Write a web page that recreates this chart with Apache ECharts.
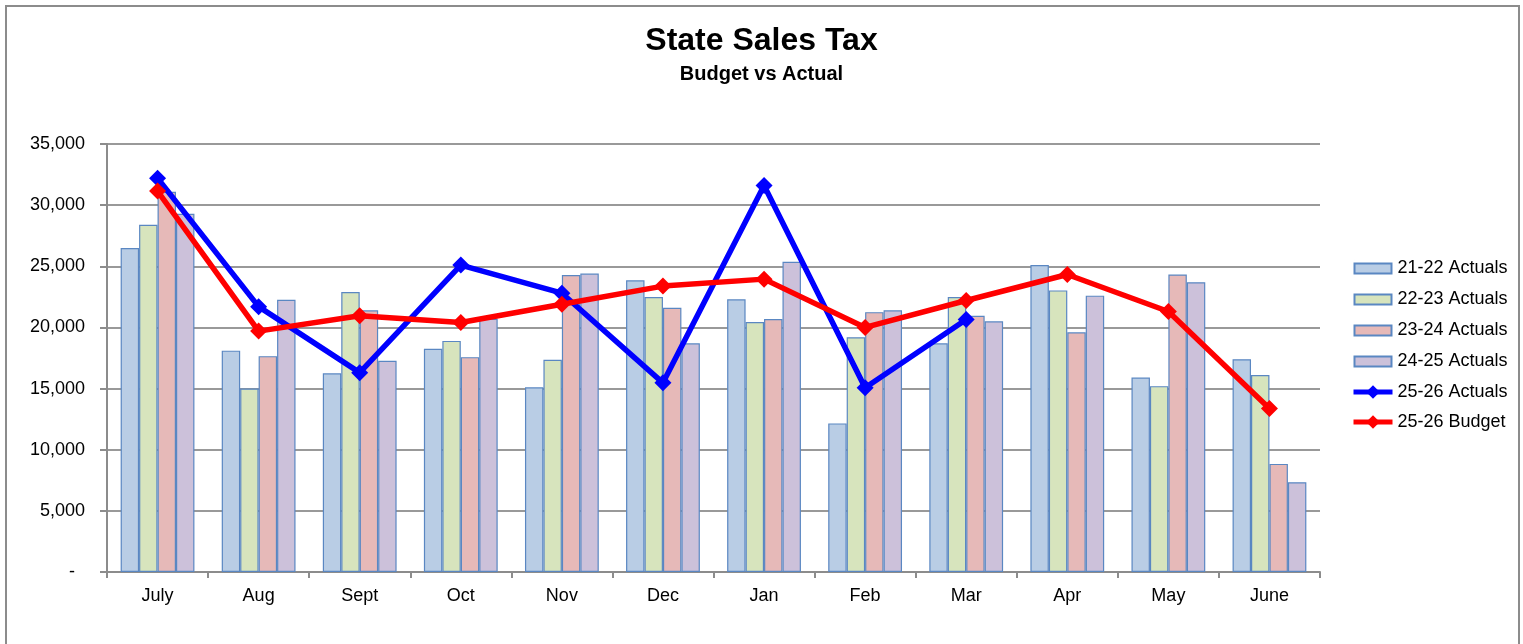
<!DOCTYPE html>
<html><head><meta charset="utf-8">
<script src="https://cdn.jsdelivr.net/npm/echarts@6/dist/echarts.min.js"></script>
<style>html,body{margin:0;padding:0;background:#fff}#c{width:1523px;height:644px}</style>
</head><body><div id="c"></div>
<script>
const categories = ['July','Aug','Sept','Oct','Nov','Dec','Jan','Feb','Mar','Apr','May','June'];
const actuals2122 = [26500,18100,16250,18250,15100,23850,22300,12150,18700,25100,15900,17400];
const actuals2223 = [28400,15000,22900,18900,17350,22480,20450,19200,22480,23030,15200,16100];
const actuals2324 = [31100,17650,21400,17570,24280,21600,20680,21250,20950,19600,24330,8840];
const actuals2425 = [29300,22260,17270,20700,24400,18700,25370,21400,20500,22600,23700,7340];
const actuals2526 = [32200,21700,16300,25100,22800,15470,31600,15060,20650,null,null,null];
const budget2526 = [31150,19700,20950,20400,21900,23380,23950,20000,22200,24330,21300,13370];
const yTicks = [0,5000,10000,15000,20000,25000,30000,35000];

const font = '"Liberation Sans", Arial, sans-serif';
const border = '#5a87c2';
const barIcon = 'path://M0,0L0.01,0M0,3.5L37,3.5L37,13.5L0,13.5ZM0,17L0.01,17';
function barSeries(name, data, color){
  return {name, type:'bar', data, barGap:'0%', barCategoryGap:'27%',
    itemStyle:{color, borderColor:border, borderWidth:1.2}, z:2};
}
function lineSeries(name, data, color){
  return {name, type:'line', data, symbol:'diamond', symbolSize:17,
    lineStyle:{color, width:5.5}, itemStyle:{color}, z:5, connectNulls:false};
}
const chart = echarts.init(document.getElementById('c'));
chart.setOption({
  animation:false,
  backgroundColor:'#fff',
  textStyle:{fontFamily:font},
  graphic:[{type:'rect', shape:{x:6,y:6,width:1513,height:700}, style:{fill:'none', stroke:'#8c8c8c', lineWidth:2}, z:-1}],
  title:{text:'State Sales Tax', subtext:'Budget vs Actual', left:'center', top:20, itemGap:7,
    textStyle:{fontFamily:font, fontSize:32, fontWeight:'bold', color:'#000'},
    subtextStyle:{fontFamily:font, fontSize:20, fontWeight:'bold', color:'#000'}},
  legend:{orient:'vertical', left:1346, top:254, itemWidth:39, itemHeight:17, itemGap:12,
    lineStyle:{width:5},
    textStyle:{fontFamily:font, fontSize:18, color:'#000', lineHeight:17},
    data:[
      {name:'21-22 Actuals', icon:barIcon},
      {name:'22-23 Actuals', icon:barIcon},
      {name:'23-24 Actuals', icon:barIcon},
      {name:'24-25 Actuals', icon:barIcon},
      {name:'25-26 Actuals'},
      {name:'25-26 Budget'}
    ]},
  grid:{left:107, right:203, top:144, bottom:72, containLabel:false},
  xAxis:{type:'category', data:categories, boundaryGap:true,
    axisLine:{lineStyle:{color:'#8c8c8c', width:2}},
    axisTick:{show:true, length:6, lineStyle:{color:'#8c8c8c', width:2}},
    axisLabel:{fontFamily:font, fontSize:18, color:'#000', margin:15}},
  yAxis:{type:'value', min:0, max:35000, interval:5000,
    axisLine:{show:true, lineStyle:{color:'#8c8c8c', width:2}},
    axisTick:{show:true, length:7, lineStyle:{color:'#8c8c8c', width:2}},
    splitLine:{lineStyle:{color:'#999', width:2}},
    axisLabel:{fontFamily:font, fontSize:18, color:'#000', margin:22,
      formatter:v => v===0 ? '-  ' : v.toLocaleString('en-US')}},
  series:[
    barSeries('21-22 Actuals', actuals2122, '#b9cde5'),
    barSeries('22-23 Actuals', actuals2223, '#d7e4bd'),
    barSeries('23-24 Actuals', actuals2324, '#e6b9b8'),
    barSeries('24-25 Actuals', actuals2425, '#ccc1da'),
    lineSeries('25-26 Actuals', actuals2526, '#0000ff'),
    lineSeries('25-26 Budget', budget2526, '#ff0000')
  ]
});
</script></body></html>
